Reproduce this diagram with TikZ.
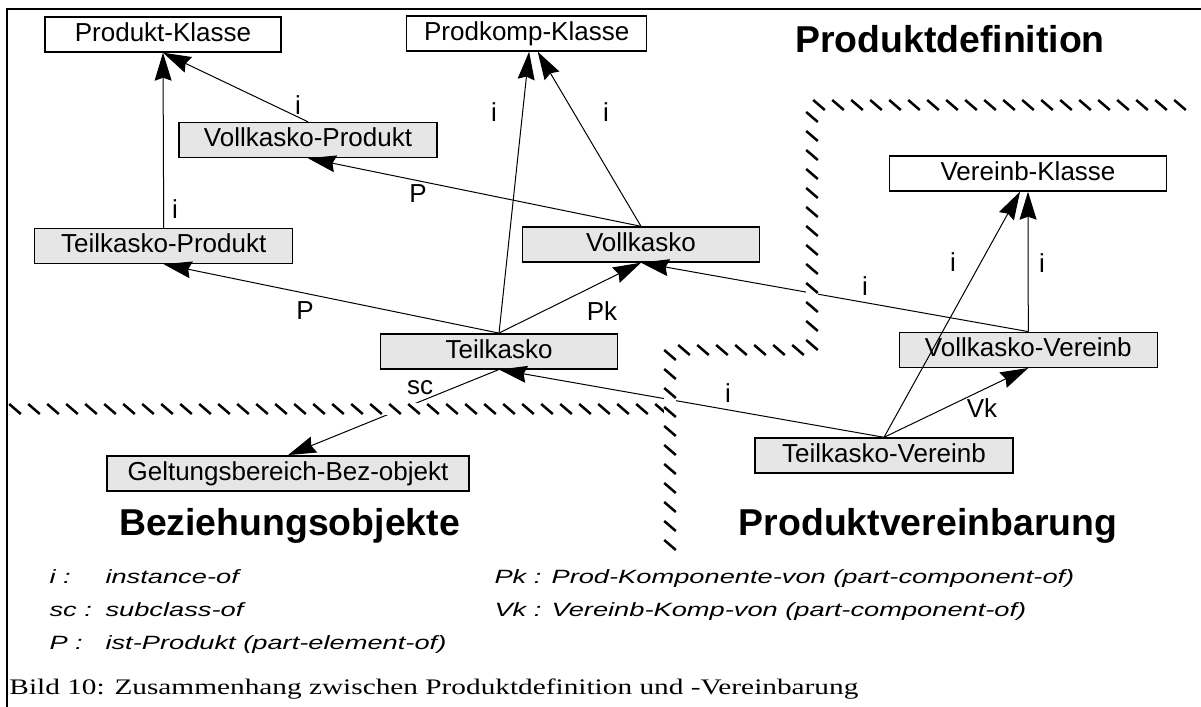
\documentclass[tikz,border=0pt]{standalone}
\usepackage{fontspec}
\setmainfont{Liberation Sans}
\newfontfamily\legendefont[FakeStretch=1.42]{Liberation Sans}
\newfontfamily\bildfont[FakeStretch=1.32]{Liberation Serif}
\usepackage{tikz}
\usetikzlibrary{arrows.meta,decorations.markings}
\definecolor{boxgray}{RGB}{230,230,230}
\tikzset{
	klasse/.style={draw, line width=0.7pt, fill=white, inner sep=0pt,
		minimum height=17.5pt, text height=9.4pt, text depth=2.6pt,
		font=\fontsize{13}{15}\selectfont},
	objekt/.style={klasse, fill=boxgray},
	lbl/.style={inner sep=0pt, font=\fontsize{13}{15}\selectfont},
	bereich/.style={inner sep=0pt, anchor=base, font=\fontsize{18.7}{22}\selectfont\bfseries},
	legende/.style={inner sep=0pt, anchor=base west, font=\legendefont\itshape\fontsize{9.6}{11}\selectfont},
	hatch/.style={preaction={draw=white, line width=6pt},
		decoration={markings, mark=between positions 0 and 1 step 9.5pt with
			{\pgftransformresetnontranslations
			 \draw[line width=1.25pt] (-2.9pt,2.5pt) -- (2.9pt,-2.5pt);}},
		postaction=decorate}
}
\begin{document}
\begin{tikzpicture}[x=0.5pt, y=-0.5pt, line width=0.5pt,
	>={Stealth[length=14pt, width=8.5pt, inset=1.5pt]}]
\useasboundingbox (0,0) rectangle (1201,707);
\draw[line width=0.75pt] (1201,9) -- (7,9) -- (7,707);

% Produktdefinition
\node[klasse, minimum width=118pt]   (PK)  at (163,34.5)   {Produkt-Klasse};
\node[klasse, minimum width=120pt]   (PKK) at (526.7,33.5) {Prodkomp-Klasse};
\node[objekt, minimum width=129pt]   (VP)  at (308,140)    {Vollkasko-Produkt};
\node[objekt, minimum width=129pt]   (TP)  at (163.7,246)  {Teilkasko-Produkt};
\node[objekt, minimum width=118.5pt] (VK)  at (641,244.5)  {Vollkasko};
\node[objekt, minimum width=118.5pt] (TK)  at (499,351.3)  {Teilkasko};
% Beziehungsobjekte
\node[objekt, minimum width=181pt]   (GB)  at (288,473.3)  {Geltungsbereich-Bez-objekt};
% Produktvereinbarung
\node[klasse, minimum width=138.5pt] (VKl) at (1028,173.5) {Vereinb-Klasse};
\node[objekt, minimum width=129pt]   (VV)  at (1028.3,349.8) {Vollkasko-Vereinb};
\node[objekt, minimum width=129pt]   (TV)  at (884,455.5)  {Teilkasko-Vereinb};

\draw[->] (TP.north) -- (PK.south);
\draw[->] (VP.north) -- (PK.south);
\draw[->] (VK.north) -- (VP.south);
\draw[->] (VK.north) -- ([xshift=5.5pt]PKK.south);
\draw[->] (TK.north) -- ([xshift=1.2pt]PKK.south);
\draw[->] (TK.north) -- (TP.south);
\draw[->] (TK.north) -- (VK.south);
\draw[->] (VV.north) -- (VK.south);
\draw[->] (VV.north) -- (VKl.south);
\draw[->] (TV.north) -- ([xshift=-4pt]VKl.south);
\draw[->] (TV.north) -- (VV.south);
\draw[->] (TV.north) -- (TK.south);
\draw[->] (TK.south) -- (GB.north);

\node[lbl] (i1) at (175,209)  {i};
\node[lbl] (i2) at (298,105)  {i};
\node[lbl] (p1) at (418,194)  {P};
\node[lbl] (i3) at (494,112)  {i};
\node[lbl] (i4) at (606,112)  {i};
\node[lbl] (p2) at (305,311)  {P};
\node[lbl] (pk) at (602,311)  {Pk};
\node[lbl] (i5) at (865,286)  {i};
\node[lbl] (i6) at (953,262)  {i};
\node[lbl] (i7) at (1042,263) {i};
\node[lbl] (vk) at (982,408)  {Vk};
\node[lbl] (i8) at (728,393)  {i};
\node[lbl] (sc) at (420,388)  {sc};

\path[hatch] (15,409) -- (670,409);
\path[hatch] (1180,105) -- (812,105) -- (812,350) -- (670,350) -- (670,547);

\node[bereich] (defn)    at (950,52)    {Produktdefinition};
\node[bereich] (bez)     at (289.5,535) {Beziehungsobjekte};
\node[bereich] (vereinb) at (928,535)   {Produktvereinbarung};

\foreach \k/\t [count=\r] in {i/instance-of, sc/subclass-of, P/ist-Produkt (part-element-of)}
{
	\node[legende] (key\r)  at (49,550+33*\r)  {\k\ :};
	\node[legende] (desc\r) at (105,550+33*\r) {\t};
}
\node[legende] (pkdef) at (494,583) {Pk : Prod-Komponente-von (part-component-of)};
\node[legende] (vkdef) at (494,616) {Vk : Vereinb-Komp-von (part-component-of)};

\node[inner sep=0pt, anchor=base west, font=\bildfont\fontsize{11.1}{13}\selectfont] (bild) at (9,694)
	{Bild 10: Zusammenhang zwischen Produktdefinition und -Vereinbarung};
\end{tikzpicture}
\end{document}
